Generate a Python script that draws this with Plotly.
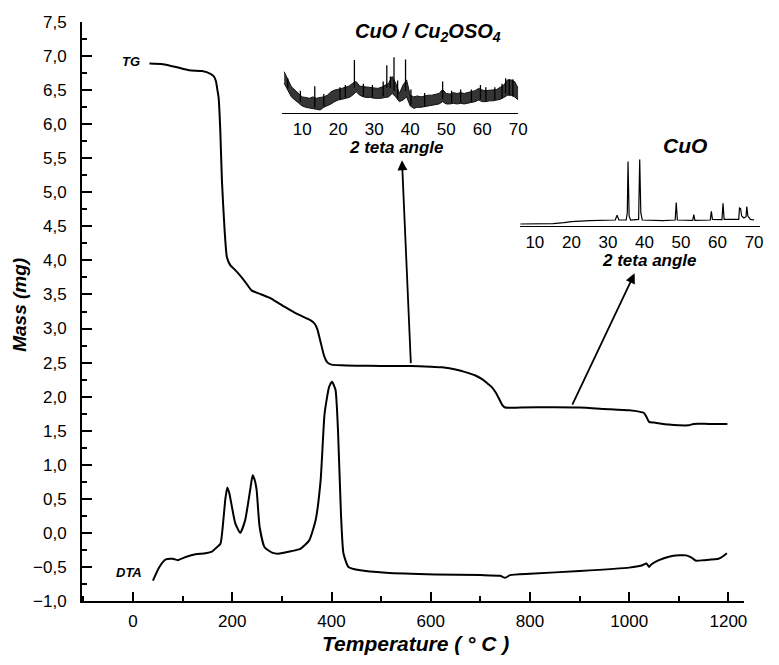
import plotly.graph_objects as go

# ---------------- thermal analysis data ----------------
tg_temp = [33, 60, 86, 113, 139, 156, 163, 167, 170, 172.4, 175.8, 179, 184.4, 189, 195.8,
           203, 212, 225.5, 238.7, 258.6, 278.4, 305, 331.5, 358, 366, 371.3, 378, 385, 392,
           400, 420, 450, 500, 560, 600, 623, 650, 670, 690, 705, 715, 723, 731, 739, 745,
           750, 780, 850, 900, 950, 1000, 1020, 1030, 1035, 1040, 1050, 1080, 1100, 1120,
           1130, 1160, 1198]
tg_mass = [6.89, 6.88, 6.84, 6.79, 6.78, 6.74, 6.70, 6.63, 6.50, 6.39, 5.90, 5.18, 4.45, 4.05, 3.93,
           3.88, 3.81, 3.69, 3.56, 3.50, 3.44, 3.32, 3.21, 3.12, 3.07, 2.99, 2.80, 2.60, 2.50,
           2.47, 2.46, 2.455, 2.45, 2.45, 2.44, 2.43, 2.40, 2.36, 2.31, 2.25, 2.19, 2.14, 2.06, 1.95, 1.87,
           1.84, 1.84, 1.845, 1.84, 1.82, 1.80, 1.78, 1.76, 1.70, 1.63, 1.62, 1.59, 1.58, 1.58,
           1.60, 1.60, 1.60]

dta_temp = [40, 53, 66, 80, 90, 106, 126, 146, 160, 166, 176, 182, 186, 190, 194, 198, 206, 216,
            226, 236, 241, 245, 249, 255, 265, 280, 292, 318, 338, 355, 368, 378, 386, 395, 401,
            408, 413, 419, 424, 434, 458, 510, 610, 700, 740, 750, 760, 800, 900, 1000, 1025,
            1035, 1040, 1045, 1060, 1080, 1100, 1115, 1125, 1135, 1150, 1180, 1190, 1197]
dta_signal = [-0.70, -0.50, -0.39, -0.38, -0.40, -0.355, -0.315, -0.30, -0.27, -0.23, -0.16, 0.19,
              0.50, 0.665, 0.58, 0.43, 0.14, 0.0, 0.19, 0.63, 0.846, 0.78, 0.63, 0.09, -0.21, -0.29,
              -0.305, -0.27, -0.23, -0.11, 0.19, 0.77, 1.75, 2.14, 2.22, 2.10, 1.51, 0.28, -0.30,
              -0.50, -0.55, -0.585, -0.61, -0.62, -0.63, -0.66, -0.62, -0.60, -0.56, -0.51, -0.48,
              -0.45, -0.50, -0.46, -0.40, -0.35, -0.33, -0.33, -0.36, -0.41, -0.40, -0.38, -0.34, -0.30]

# ---------------- XRD after the first plateau (CuO / Cu2OSO4) ----------------
xrd1_angle = list(range(5, 71))
xrd1_upper = [73.5, 59, 47, 41, 35, 29, 28, 26.5, 29, 26.5, 28, 29, 32, 38, 41, 42, 44, 46, 48, 53,
              56, 48, 47, 46, 46, 44, 44, 46, 50, 53, 65, 53, 35, 50, 59, 32, 29, 30.6, 29, 30.6,
              32, 32, 34, 35, 42, 35, 34, 36.5, 35, 36.5, 35, 36.5, 38, 40, 44, 41, 40, 41, 41, 42,
              46, 50, 59, 59, 56, 44]
xrd1_lower = [53, 41, 29, 23.5, 17.6, 13, 10.6, 8.8, 8.2, 7, 5.9, 10.6, 13, 16.5, 20.6, 23.5, 24.7,
              26.5, 28, 32, 38, 32, 29, 28, 28, 26.5, 26.5, 26.5, 28, 29, 35, 29, 20.6, 23.5, 29,
              13, 8.8, 10.6, 10.6, 11.8, 13, 13, 14.7, 16.5, 20.6, 16.5, 16.5, 17.6, 16.5, 17.6,
              16.5, 17.6, 18.8, 20.6, 23.5, 20.6, 20.6, 22, 22, 23.5, 24.7, 28, 32, 32, 29, 23.5]
xrd1_peak_angle = [6, 9.5, 13.5, 16, 20.5, 22, 24.5, 27, 29.5, 32.5, 33.5, 34.5, 35.5, 36.5, 38.7,
                   40.2, 44, 49, 51.5, 54, 57, 59.5, 61, 63.5, 65.5, 66.5, 67.5, 68.5]
xrd1_peak_top = [62, 40, 48, 34, 46, 50, 94, 52, 50, 56, 85, 65, 99, 58, 95,
                 42, 36, 56, 40, 42, 42, 50, 46, 46, 52, 62, 60, 60]
xrd1_peak_base = [45, 20, 10, 12, 25, 28, 45, 30, 28, 30, 45, 45, 40, 25, 40,
                  15, 12, 25, 18, 18, 20, 25, 22, 24, 26, 35, 32, 30]

# ---------------- XRD of the final residue (CuO) ----------------
xrd2_angle = [6, 10, 15, 18, 20, 25, 30, 32, 32.5, 33, 35, 35.3, 35.5, 35.8, 36.2, 38.4, 38.7, 39.0,
              39.4, 45, 48.4, 48.7, 49.0, 53.2, 53.5, 53.8, 58.0, 58.3, 58.6, 61.2, 61.5, 61.8,
              65.8, 66.0, 66.3, 66.6, 67.2, 67.8, 68.0, 68.3, 69, 70]
xrd2_intensity = [3, 3, 3.5, 5, 6.5, 8, 8.5, 9, 16, 9, 9, 20, 96.5, 15, 9, 10, 100, 20,
                  9, 8, 9, 35, 9, 8.5, 17, 8.5, 9, 22, 10, 9.5, 34, 10,
                  10, 27, 26, 15, 12, 14, 29, 15, 10, 9]

x_ticks_main = [0, 200, 400, 600, 800, 1000, 1200]

# ---------------- layout geometry (pixels) ----------------
W, H = 779, 665
ML, MR, MT, MB = 82, 5, 22, 64
PW, PH = W - ML - MR, H - MT - MB


def fx(px):
    return (px - ML) / PW


def fy(py):
    return (H - MB - py) / PH


BI = "Liberation Sans, Arial, sans-serif"

fig = go.Figure()

fig.add_trace(go.Scatter(x=tg_temp, y=tg_mass, mode="lines", line=dict(color="black", width=2,
                         shape="spline", smoothing=0.5), showlegend=False))
fig.add_trace(go.Scatter(x=dta_temp, y=dta_signal, mode="lines", line=dict(color="black", width=2,
                         shape="spline", smoothing=0.5), showlegend=False))

# inset 1: noisy pattern drawn as an envelope band plus sharp reflections
fig.add_trace(go.Scatter(x=xrd1_angle, y=xrd1_lower, mode="lines", line=dict(color="#111", width=1),
                         xaxis="x2", yaxis="y2", showlegend=False))
fig.add_trace(go.Scatter(x=xrd1_angle, y=xrd1_upper, mode="lines", line=dict(color="#111", width=1),
                         fill="tonexty", fillcolor="rgba(25,25,25,0.88)",
                         xaxis="x2", yaxis="y2", showlegend=False))
sx, sy = [], []
for a, b, t in zip(xrd1_peak_angle, xrd1_peak_base, xrd1_peak_top):
    sx += [a, a, None]
    sy += [b, t, None]
fig.add_trace(go.Scatter(x=sx, y=sy, mode="lines", line=dict(color="black", width=1.3),
                         xaxis="x2", yaxis="y2", showlegend=False))

# inset 2: crystalline CuO
fig.add_trace(go.Scatter(x=xrd2_angle, y=xrd2_intensity, mode="lines",
                         line=dict(color="black", width=1.2),
                         xaxis="x3", yaxis="y3", showlegend=False))

tick_font = dict(family=BI, size=17, color="black")
inset_font = dict(family=BI, size=17, color="black")

fig.update_layout(
    width=W, height=H,
    margin=dict(l=ML, r=MR, t=MT, b=MB),
    paper_bgcolor="white", plot_bgcolor="white",
    separators=", ",
    xaxis=dict(domain=[0, fx(753)], range=[-103, 1232], showline=True, linecolor="black",
               linewidth=2, ticks="inside", ticklen=9, tickwidth=2, tickcolor="black",
               tickvals=x_ticks_main, tickfont=tick_font, ticklabelstandoff=4,
               minor=dict(ticks="inside", ticklen=5, tickwidth=2, tickcolor="black", dtick=100, tick0=0),
               showgrid=False, zeroline=False),
    yaxis=dict(domain=[0, 1], range=[-1.0, 7.5], showline=True, linecolor="black", linewidth=2,
               ticks="inside", ticklen=10, tickwidth=2, tickcolor="black", dtick=0.5, tick0=0,
               tickformat=".1f", tickfont=tick_font, ticklabelstandoff=10,
               minor=dict(ticks="inside", ticklen=5, tickwidth=2, tickcolor="black", dtick=0.25, tick0=0),
               showgrid=False, zeroline=False),
    xaxis2=dict(domain=[fx(285), fx(524)], range=[4.5, 70], anchor="y2", showline=True,
                linecolor="black", linewidth=1.2, ticks="", dtick=10, tick0=0,
                tickfont=inset_font, showgrid=False, zeroline=False),
    yaxis2=dict(domain=[fy(113.3), fy(56.7)], range=[0, 100], anchor="x2", visible=False),
    xaxis3=dict(domain=[fx(526), fx(768.5)], range=[6, 71.5], anchor="y3", showline=True,
                linecolor="black", linewidth=1.2, ticks="", dtick=10, tick0=0,
                tickfont=inset_font, showgrid=False, zeroline=False),
    yaxis3=dict(domain=[fy(226), fy(159.3)], range=[0, 100], anchor="x3", visible=False),
)

ann = []


def txt(text, px, py, size, angle=0):
    ann.append(dict(text=text, x=fx(px), y=fy(py), xref="paper", yref="paper",
                    xanchor="center", yanchor="middle", showarrow=False, textangle=angle,
                    font=dict(family=BI, size=size, color="black")))


txt("<b><i>Temperature ( ° C )</i></b>", 420, 643, 21)
txt("<b><i>Mass (mg)</i></b>", 18, 305, 19, -90)
txt("<b><i>CuO / Cu<sub>2</sub>OSO<sub>4</sub></i></b>", 433, 32, 20)
txt("<b><i>2 teta angle</i></b>", 401, 147, 17)
txt("<b><i>CuO</i></b>", 693, 146, 21)
txt("<b><i>2 teta angle</i></b>", 657, 260, 17)
txt("<b><i>TG</i></b>", 132, 62, 13)
txt("<b><i>DTA</i></b>", 130, 572, 13)

# arrows from the TG plateaus to the corresponding diffractograms
for head, tail in [((542, 5.47), (560, 2.47)), ((1011, 3.81), (884, 1.86))]:
    ann.append(dict(x=head[0], y=head[1], ax=tail[0], ay=tail[1], xref="x", yref="y",
                    axref="x", ayref="y", showarrow=True, arrowhead=2, arrowsize=1.1,
                    arrowwidth=1.8, arrowcolor="black", text=""))

fig.update_layout(annotations=ann)

fig.write_html("out.html")
